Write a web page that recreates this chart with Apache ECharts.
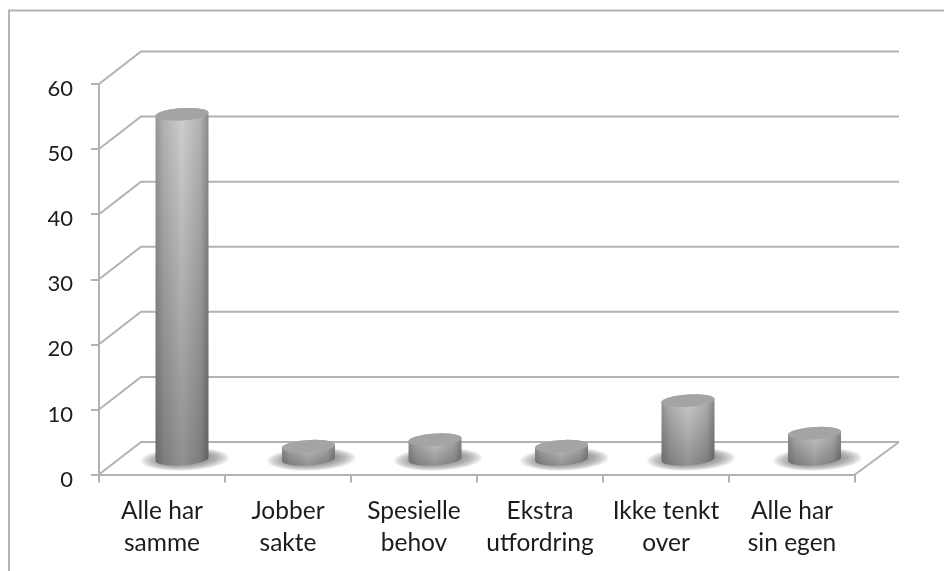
<!DOCTYPE html>
<html><head><meta charset="utf-8">
<style>html,body{margin:0;padding:0;background:#fff}#c{width:944px;height:571px}</style>
<script src="https://cdn.jsdelivr.net/npm/echarts@6/dist/echarts.min.js"></script>
</head><body><div id="c"></div>
<script>
const categories = ['Alle har\nsamme','Jobber\nsakte','Spesielle\nbehov','Ekstra\nutfordring','Ikke tenkt\nover','Alle har\nsin egen'];
const values = [53,2,3,2,9,4];
const yTicks = [0,10,20,30,40,50,60];

const depthX = 42, depthXEnd = 44, depthY = 32.5;   // 3D wall depth
const lineColor = '#b2b2b2';
const chart = echarts.init(document.getElementById('c'), null, {renderer:'canvas'});

function ring(cx, cy, rx, ry, shear, from, to, n) {
  const pts = [];
  for (let i = 0; i <= n; i++) {
    const t = from + (to - from) * i / n;
    pts.push([cx + rx * Math.cos(t), cy + ry * Math.sin(t) - shear * Math.cos(t)]);
  }
  return pts;
}
const linGrad = (x2, y2, stops) => new echarts.graphic.LinearGradient(0, 0, x2, y2, stops);

function renderGrid(params, api) {
  const v = api.value(0);
  const p = api.coord([0, v]);
  const cs = params.coordSys;
  const x0 = cs.x, x1 = cs.x + cs.width;
  const children = [{
    type: 'polyline',
    shape: {points: [[x0, p[1]], [x0 + depthX, p[1] - depthY], [x1 + depthXEnd, p[1] - depthY]]},
    style: {stroke: lineColor, lineWidth: 2, fill: null}
  }];
  if (v === 0) {
    children.push({type: 'line', shape: {x1: x1, y1: p[1], x2: x1 + depthXEnd, y2: p[1] - depthY},
      style: {stroke: lineColor, lineWidth: 2}});
  }
  return {type: 'group', children};
}

function renderCyl(params, api) {
  const idx = api.value(0), v = api.value(1);
  const base0 = api.coord([idx, 0]);
  const top0 = api.coord([idx, v]);
  const band = api.size([1, 0])[0];
  const cx = base0[0] + depthX / 2 - 1 + idx * 0.5;
  const by = base0[1] - depthY / 2 + 1;
  const ty = top0[1] - depthY / 2 + 1;
  const rx = band * 0.21, ry = 6.2, shear = 1.6;
  const body = ring(cx, by, rx, ry, shear, 0, Math.PI, 30)
    .concat(ring(cx, ty, rx, ry, shear, Math.PI, 2 * Math.PI, 30));
  const top = ring(cx, ty, rx, ry, shear, 0, 2 * Math.PI, 60);
  const children = [];
  const layers = 14;
  for (let k = 0; k < layers; k++) {
    const f = k / (layers - 1);
    children.push({type: 'polygon',
      shape: {points: ring(cx + 3, by, rx * (1.68 - 0.68 * f), ry * (1.85 - 0.85 * f), shear, 0, 2 * Math.PI, 60)},
      style: {fill: 'rgba(120,120,120,0.075)'}});
  }
  children.push(
    {type: 'polygon', shape: {points: body},
      style: {fill: linGrad(1, 0, [
        {offset: 0, color: '#969696'}, {offset: 0.15, color: '#b2b2b2'},
        {offset: 0.5, color: '#cfcfcf'}, {offset: 0.85, color: '#b2b2b2'},
        {offset: 1, color: '#8a8a8a'}])}},
    {type: 'polygon', shape: {points: body},
      style: {fill: linGrad(0, 1, [
        {offset: 0, color: 'rgba(0,0,0,0)'}, {offset: 1, color: 'rgba(0,0,0,0.3)'}])}},
    {type: 'polygon', shape: {points: top}, style: {fill: '#a4a4a4'}}
  );
  return {type: 'group', children};
}

chart.setOption({
  animation: false,
  backgroundColor: '#fff',
  graphic: [{type: 'polyline', silent: true, z: 0,
    shape: {points: [[9, 572], [9, 10.5], [945, 10.5]]},
    style: {stroke: '#b4b4b4', lineWidth: 2, fill: null}}],
  grid: {left: 99, right: 89, top: 84, height: 390.5},
  xAxis: {
    type: 'category', data: categories,
    axisLine: {lineStyle: {color: lineColor, width: 2}},
    axisTick: {show: true, length: 8, alignWithLabel: false, lineStyle: {color: lineColor, width: 2}},
    axisLabel: {interval: 0, color: '#1c1c1c', fontFamily: 'Lato', fontSize: 24.5, lineHeight: 32, margin: 21},
    splitLine: {show: false}
  },
  yAxis: {
    type: 'value', min: 0, max: 60, interval: 10,
    axisLine: {show: true, lineStyle: {color: lineColor, width: 2}},
    axisTick: {show: true, length: 8, lineStyle: {color: lineColor, width: 2}},
    axisLabel: {color: '#1c1c1c', fontFamily: 'Lato', fontSize: 22, margin: 26, verticalAlign: 'top', lineHeight: 10},
    splitLine: {show: false}
  },
  series: [
    {type: 'custom', z: 1, silent: true, renderItem: renderGrid, data: yTicks.map(v => [v]),
      encode: {y: 0}, clip: false},
    {type: 'custom', z: 3, silent: true, renderItem: renderCyl,
      data: values.map((v, i) => [i, v]), encode: {x: 0, y: 1}, clip: false}
  ]
});
</script></body></html>
